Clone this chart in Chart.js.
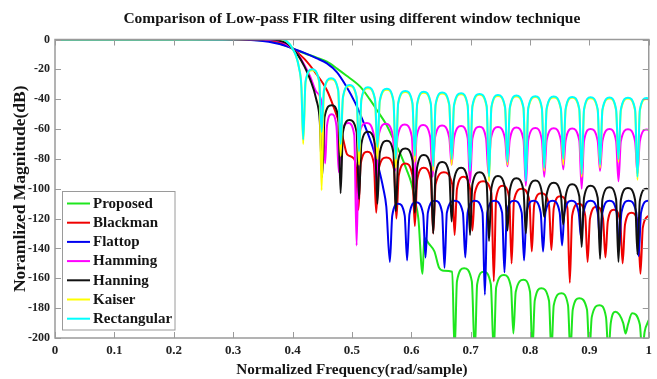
<!DOCTYPE html>
<html>
<head>
<meta charset="utf-8">
<script src="https://cdn.jsdelivr.net/npm/chart.js@4.4.1/dist/chart.umd.min.js"></script>
<style>
  html, body { margin: 0; padding: 0; background: #fff; }
  #wrap { width: 657px; height: 379px; }
</style>
</head>
<body>
<div id="wrap"><canvas id="chart" width="657" height="379"></canvas></div>
<script>
// values: [normalized frequency, magnitude dB]
const seriesNames = ["Proposed", "Blackman", "Flattop", "Hamming", "Hanning", "Kaiser", "Rectangular"];
const seriesColors = ["#1ee61e", "#f00000", "#0000f0", "#ff00ff", "#111111", "#ffff00", "#00ffff"];

const xTickLabels = ["0", "0.1", "0.2", "0.3", "0.4", "0.5", "0.6", "0.7", "0.8", "0.9", "1"];
const yTickLabels = ["-200", "-180", "-160", "-140", "-120", "-100", "-80", "-60", "-40", "-20", "0"];

const proposed = [
  [0, 0], [0.2, 0], [0.3, 0], [0.33, -0.2], [0.36, -1], [0.38, -2.8], [0.4, -6], [0.42, -9.2], [0.44, -12],
  [0.458, -14.9], [0.475, -19.5], [0.49, -24], [0.514, -31.6], [0.53, -40], [0.542, -47.2], [0.558, -57],
  [0.57, -67], [0.582, -77], [0.592, -87], [0.6, -96], [0.606, -107.5], [0.612, -120], [0.619, -157],
  [0.622, -133], [0.63, -137], [0.639, -142], [0.647, -153], [0.655, -155], [0.669, -155.6], [0.673, -210],
  [0.677, -162], [0.689, -153.3], [0.702, -162], [0.707, -210],
  [0.711, -164], [0.722, -155.6], [0.734, -164], [0.739, -210],
  [0.743, -166], [0.756, -157.8], [0.768, -166], [0.772, -197],
  [0.776, -169], [0.789, -161], [0.8, -169], [0.804, -210],
  [0.808, -175], [0.819, -166.7], [0.832, -175], [0.836, -210],
  [0.84, -178], [0.853, -170], [0.864, -178], [0.868, -210],
  [0.872, -181], [0.883, -173.4], [0.896, -181], [0.9, -210],
  [0.904, -186], [0.917, -178], [0.928, -186], [0.932, -210],
  [0.936, -190], [0.944, -182.4], [0.957, -190], [0.961, -197],
  [0.965, -191], [0.972, -183.5], [0.985, -191], [0.989, -210],
  [0.993, -196], [1, -188]
];

const blackman = [
  [0, 0], [0.2, 0], [0.3, 0], [0.34, -0.1], [0.36, -0.5], [0.38, -2], [0.4, -6], [0.42, -13], [0.44, -23],
  [0.458, -34], [0.47, -46], [0.48, -58], [0.486, -68], [0.492, -77], [0.503, -79.6], [0.507, -86], [0.511, -114],
  [0.515, -83], [0.526, -75.2], [0.537, -83], [0.541, -116],
  [0.545, -87], [0.558, -79], [0.571, -87], [0.575, -120],
  [0.579, -91], [0.59, -83], [0.602, -91], [0.606, -125],
  [0.61, -94], [0.621, -86], [0.633, -94], [0.637, -130],
  [0.641, -97], [0.655, -89], [0.669, -97], [0.673, -131],
  [0.677, -100], [0.688, -92], [0.699, -100], [0.703, -128],
  [0.707, -103], [0.721, -95], [0.735, -103], [0.739, -162],
  [0.743, -106], [0.754, -98], [0.765, -106], [0.769, -150],
  [0.773, -108], [0.786, -100], [0.799, -108], [0.803, -142],
  [0.807, -111], [0.819, -103], [0.832, -111], [0.836, -141],
  [0.84, -113], [0.851, -105], [0.863, -113], [0.867, -163],
  [0.871, -118], [0.882, -110], [0.893, -118], [0.897, -149],
  [0.901, -120], [0.912, -112], [0.923, -120], [0.927, -146],
  [0.931, -122], [0.941, -114], [0.952, -122], [0.956, -150],
  [0.96, -124], [0.971, -116], [0.982, -124], [0.986, -157],
  [0.99, -126], [1, -118]
];

const flattop = [
  [0, 0], [0.2, 0], [0.3, -0.1], [0.33, -0.4], [0.35, -1], [0.37, -2.3], [0.385, -3.8], [0.4, -6], [0.42, -9],
  [0.44, -12.5], [0.458, -16], [0.475, -22], [0.49, -31], [0.505, -42], [0.515, -51], [0.525, -61],
  [0.535, -72], [0.545, -86], [0.553, -100], [0.558, -112], [0.564, -149],
  [0.568, -118], [0.578, -110], [0.589, -118], [0.593, -148],
  [0.597, -117], [0.608, -109], [0.62, -117], [0.624, -146],
  [0.628, -116], [0.64, -108], [0.652, -116], [0.656, -153],
  [0.66, -116], [0.673, -108], [0.687, -116], [0.691, -146],
  [0.695, -116], [0.707, -108], [0.72, -116], [0.724, -171],
  [0.728, -116], [0.74, -108], [0.753, -116], [0.757, -156],
  [0.761, -116], [0.773, -108], [0.786, -116], [0.79, -148],
  [0.794, -116], [0.806, -108], [0.818, -116], [0.822, -142],
  [0.826, -116], [0.838, -108], [0.85, -116], [0.854, -138],
  [0.858, -116], [0.87, -108], [0.882, -116], [0.886, -133],
  [0.89, -116], [0.902, -108], [0.914, -116], [0.918, -136],
  [0.922, -116], [0.934, -108], [0.946, -116], [0.95, -140],
  [0.954, -116], [0.966, -108], [0.979, -116], [0.983, -145],
  [0.987, -116], [0.999, -108], [1, -108]
];

const hamming = [
  [0, 0], [0.2, 0], [0.3, 0], [0.35, 0], [0.37, -0.5], [0.385, -2], [0.4, -6], [0.41, -10.5], [0.42, -17],
  [0.43, -25], [0.44, -35], [0.45, -44], [0.455, -83],
  [0.458, -58], [0.466, -50], [0.474, -58], [0.478, -89],
  [0.482, -64], [0.494, -56], [0.504, -64], [0.508, -138],
  [0.512, -64], [0.525, -56], [0.537, -64], [0.541, -95],
  [0.545, -64.5], [0.557, -56.5], [0.569, -64.5], [0.573, -88],
  [0.577, -65], [0.589, -57], [0.601, -65], [0.605, -100],
  [0.609, -65.3], [0.62, -57.3], [0.632, -65.3], [0.636, -92],
  [0.64, -65.7], [0.652, -57.7], [0.664, -65.7], [0.668, -84],
  [0.672, -66], [0.684, -58], [0.695, -66], [0.699, -96],
  [0.703, -66.4], [0.715, -58.4], [0.726, -66.4], [0.73, -90],
  [0.734, -66.7], [0.746, -58.7], [0.758, -66.7], [0.762, -85],
  [0.766, -67], [0.777, -59], [0.789, -67], [0.793, -98],
  [0.797, -67.3], [0.809, -59.3], [0.82, -67.3], [0.824, -92],
  [0.828, -67.5], [0.84, -59.5], [0.852, -67.5], [0.856, -87],
  [0.86, -67.7], [0.871, -59.7], [0.883, -67.7], [0.887, -100],
  [0.891, -67.9], [0.902, -59.9], [0.914, -67.9], [0.918, -88],
  [0.922, -68], [0.934, -60], [0.945, -68], [0.949, -95],
  [0.953, -68.2], [0.965, -60.2], [0.977, -68.2], [0.981, -90],
  [0.985, -68.3], [0.996, -60.3], [1, -60.5]
];

const hanning = [
  [0, 0], [0.2, 0], [0.3, 0], [0.34, 0.2], [0.36, 0.3], [0.375, -0.5], [0.39, -2.5], [0.4, -6], [0.41, -11],
  [0.42, -18], [0.43, -27], [0.44, -40], [0.446, -55], [0.45, -92],
  [0.454, -52], [0.466, -44], [0.477, -52], [0.481, -103],
  [0.485, -62], [0.496, -54], [0.508, -62], [0.512, -107],
  [0.516, -70], [0.527, -61.8], [0.539, -70], [0.543, -110],
  [0.547, -76], [0.559, -67.8], [0.57, -76], [0.574, -115],
  [0.578, -81], [0.59, -73], [0.602, -81], [0.606, -116],
  [0.61, -85.5], [0.621, -77.4], [0.633, -85.5], [0.637, -130],
  [0.641, -90], [0.652, -82], [0.664, -90], [0.668, -122],
  [0.672, -94], [0.684, -86], [0.695, -94], [0.699, -131],
  [0.703, -97], [0.715, -89], [0.727, -97], [0.731, -135],
  [0.735, -99.5], [0.746, -91.5], [0.758, -99.5], [0.762, -128],
  [0.766, -101], [0.777, -93], [0.789, -101], [0.793, -130],
  [0.797, -102.5], [0.809, -94.5], [0.82, -102.5], [0.824, -119],
  [0.828, -104], [0.84, -96], [0.852, -104], [0.856, -124],
  [0.86, -105], [0.871, -97], [0.883, -105], [0.887, -139],
  [0.891, -106], [0.902, -98], [0.914, -106], [0.918, -147],
  [0.922, -107], [0.934, -99], [0.945, -107], [0.949, -149],
  [0.953, -107.5], [0.965, -99.5], [0.977, -107.5], [0.981, -144],
  [0.985, -108], [0.996, -100], [1, -100.5]
];

const kaiser = [
  [0, 0], [0.1, 0], [0.2, 0], [0.3, 0.1], [0.34, 0.4], [0.365, 0.6], [0.385, -0.2], [0.395, -3], [0.4, -6],
  [0.406, -11], [0.411, -19], [0.415, -32], [0.418, -70],
  [0.422, -28.6], [0.433, -20.6], [0.445, -28.6], [0.449, -101],
  [0.453, -34.6], [0.465, -26.6], [0.477, -34.6], [0.481, -78],
  [0.485, -39.1], [0.496, -31.1], [0.508, -39.1], [0.512, -84],
  [0.516, -40.6], [0.527, -32.6], [0.539, -40.6], [0.543, -80],
  [0.547, -41.6], [0.559, -33.6], [0.57, -41.6], [0.574, -86],
  [0.578, -43.1], [0.59, -35.1], [0.602, -43.1], [0.606, -82],
  [0.61, -43.6], [0.621, -35.6], [0.633, -43.6], [0.637, -88],
  [0.641, -44.1], [0.652, -36.1], [0.664, -44.1], [0.668, -84],
  [0.672, -44.6], [0.684, -36.6], [0.695, -44.6], [0.699, -86],
  [0.703, -45.1], [0.715, -37.1], [0.727, -45.1], [0.731, -95],
  [0.735, -45.8], [0.746, -37.8], [0.758, -45.8], [0.762, -84],
  [0.766, -46.2], [0.777, -38.2], [0.789, -46.2], [0.793, -90],
  [0.797, -46.6], [0.809, -38.6], [0.82, -46.6], [0.824, -88],
  [0.828, -46.8], [0.84, -38.8], [0.852, -46.8], [0.856, -84],
  [0.86, -47.1], [0.871, -39.1], [0.883, -47.1], [0.887, -92],
  [0.891, -47.3], [0.902, -39.3], [0.914, -47.3], [0.918, -86],
  [0.922, -47.5], [0.934, -39.5], [0.945, -47.5], [0.949, -82],
  [0.953, -47.6], [0.965, -39.6], [0.977, -47.6], [0.981, -94],
  [0.985, -47.8], [0.996, -39.8], [1, -40.1]
];

const rectangular = [
  [0, 0], [0.1, 0], [0.2, 0], [0.3, 0.2], [0.34, 0.5], [0.365, 0.8], [0.385, 0], [0.395, -3], [0.4, -6],
  [0.406, -11], [0.411, -19], [0.415, -32], [0.418, -67],
  [0.422, -28], [0.433, -20], [0.445, -28], [0.449, -62],
  [0.453, -34], [0.465, -26], [0.477, -34], [0.481, -70],
  [0.485, -38.5], [0.496, -30.5], [0.508, -38.5], [0.512, -75],
  [0.516, -40], [0.527, -32], [0.539, -40], [0.543, -72],
  [0.547, -41], [0.559, -33], [0.57, -41], [0.574, -80],
  [0.578, -42.5], [0.59, -34.5], [0.602, -42.5], [0.606, -78],
  [0.61, -43], [0.621, -35], [0.633, -43], [0.637, -85],
  [0.641, -43.5], [0.652, -35.5], [0.664, -43.5], [0.668, -80],
  [0.672, -44], [0.684, -36], [0.695, -44], [0.699, -88],
  [0.703, -44.5], [0.715, -36.5], [0.727, -44.5], [0.731, -92],
  [0.735, -45.2], [0.746, -37.2], [0.758, -45.2], [0.762, -82],
  [0.766, -45.6], [0.777, -37.6], [0.789, -45.6], [0.793, -95],
  [0.797, -46], [0.809, -38], [0.82, -46], [0.824, -86],
  [0.828, -46.2], [0.84, -38.2], [0.852, -46.2], [0.856, -80],
  [0.86, -46.5], [0.871, -38.5], [0.883, -46.5], [0.887, -90],
  [0.891, -46.7], [0.902, -38.7], [0.914, -46.7], [0.918, -84],
  [0.922, -46.9], [0.934, -38.9], [0.945, -46.9], [0.949, -80],
  [0.953, -47], [0.965, -39], [0.977, -47], [0.981, -92],
  [0.985, -47.2], [0.996, -39.2], [1, -39.5]
];

const allSeries = [proposed, blackman, flattop, hamming, hanning, kaiser, rectangular];

const FONT = "'Liberation Serif', 'Times New Roman', serif";

// matlab style box with inward ticks + legend inside the axes
const boxPlugin = {
  id: "box",
  afterDatasetsDraw(chart) {
    const { ctx, chartArea: a, scales } = chart;
    ctx.save();
    ctx.strokeStyle = "#9a9a9a";
    ctx.lineWidth = 1.5;
    ctx.strokeRect(a.left, a.top, a.right - a.left, a.bottom - a.top);
    ctx.lineWidth = 1;
    ctx.beginPath();
    scales.x.ticks.forEach(t => {
      const px = Math.round(scales.x.getPixelForValue(t.value)) + 0.5;
      ctx.moveTo(px, a.bottom); ctx.lineTo(px, a.bottom - 6);
      ctx.moveTo(px, a.top); ctx.lineTo(px, a.top + 6);
    });
    scales.y.ticks.forEach(t => {
      const py = Math.round(scales.y.getPixelForValue(t.value)) + 0.5;
      ctx.moveTo(a.left, py); ctx.lineTo(a.left + 6, py);
      ctx.moveTo(a.right, py); ctx.lineTo(a.right - 6, py);
    });
    ctx.stroke();

    // legend
    const lx = 62.5, ly = 191.5, lw = 112.5, lh = 138.5;
    ctx.fillStyle = "#fff";
    ctx.fillRect(lx, ly, lw, lh);
    ctx.strokeStyle = "#9a9a9a";
    ctx.lineWidth = 1;
    ctx.strokeRect(lx, ly, lw, lh);
    ctx.font = "bold 15px " + FONT;
    ctx.textBaseline = "middle";
    chart.data.datasets.forEach((ds, i) => {
      const ry = 203.5 + i * 19.2;
      ctx.strokeStyle = ds.borderColor;
      ctx.lineWidth = 2;
      ctx.beginPath();
      ctx.moveTo(67, ry); ctx.lineTo(90, ry);
      ctx.stroke();
      ctx.fillStyle = "#151515";
      ctx.fillText(ds.label, 93, ry + 0.5);
    });
    ctx.restore();
  }
};

new Chart(document.getElementById("chart"), {
  type: "line",
  data: {
    datasets: allSeries.map((s, i) => ({
      label: seriesNames[i],
      data: s.map(p => ({ x: p[0], y: p[1] })),
      borderColor: seriesColors[i],
      borderWidth: 2,
      pointRadius: 0,
      cubicInterpolationMode: "monotone",
      order: allSeries.length - i
    }))
  },
  options: {
    responsive: false,
    animation: false,
    layout: { padding: { top: 2, right: 2, left: 0, bottom: 0 } },
    plugins: {
      legend: { display: false },
      tooltip: { enabled: false },
      title: {
        display: true,
        fullSize: false,
        text: "Comparison of Low-pass FIR filter using different window technique",
        color: "#151515",
        font: { family: FONT, size: 15.5, weight: "bold" },
        padding: { top: 8, bottom: 10.9 }
      }
    },
    scales: {
      x: {
        type: "linear", min: 0, max: 1,
        ticks: {
          stepSize: 0.1, padding: 5, color: "#222", maxRotation: 0,
          font: { family: FONT, size: 13, weight: "bold" },
          callback: (v, i) => xTickLabels[i]
        },
        grid: { display: false, drawTicks: false },
        border: { display: false },
        title: {
          display: true, text: "Normalized Frequency(rad/sample)", color: "#151515",
          font: { family: FONT, size: 15.2, weight: "bold" }, padding: { top: 0, bottom: 0 }
        },
        afterFit(s) { s.height = 41; }
      },
      y: {
        min: -200, max: 0,
        ticks: {
          stepSize: 20, padding: 5, color: "#222",
          font: { family: FONT, size: 12, weight: "bold" },
          callback: (v, i) => yTickLabels[i]
        },
        grid: { display: false, drawTicks: false },
        border: { display: false },
        title: {
          display: true, text: "Noramlized Magnitude(dB)", color: "#151515",
          font: { family: FONT, size: 17.5, weight: "bold" }, padding: { top: 10, bottom: 0 }
        },
        afterFit(s) { s.width = 55; }
      }
    }
  },
  plugins: [boxPlugin]
});
</script>
</body>
</html>
